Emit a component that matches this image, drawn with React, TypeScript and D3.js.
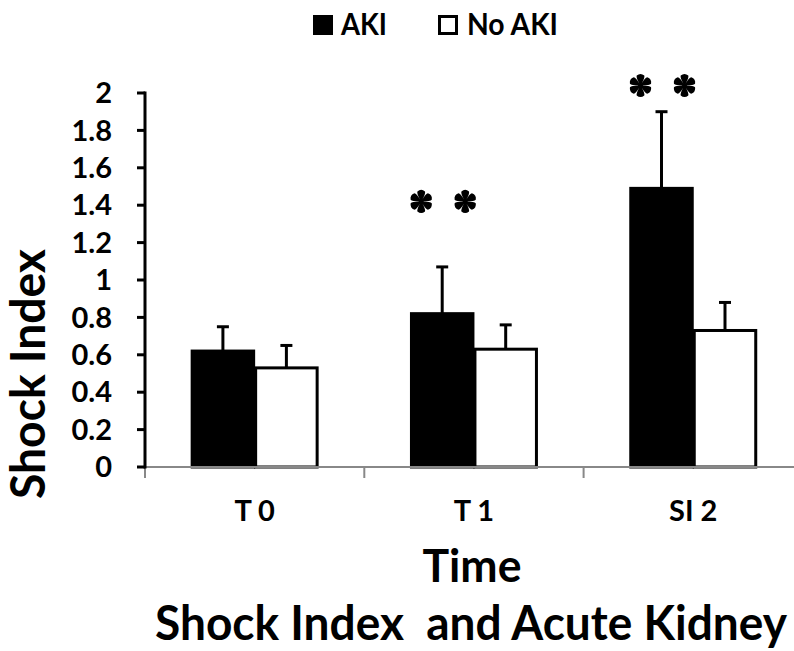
import React from 'react';
import * as d3 from 'd3';

// values
const categories = ['T 0', 'T 1', 'SI 2'];
const series = ['AKI', 'No AKI'];
const akiMean = [0.62, 0.82, 1.49];
const akiErr = [0.13, 0.25, 0.41];
const noAkiMean = [0.53, 0.63, 0.73];
const noAkiErr = [0.12, 0.13, 0.15];
const yTicks = [0, 0.2, 0.4, 0.6, 0.8, 1, 1.2, 1.4, 1.6, 1.8, 2];
// significance marks: category + height (in Shock Index units)
const sigCategories = ['T 1', 'SI 2'];
const sigLevels = [1.42, 2.04];

const FONT = 'Lato, "Open Sans", sans-serif';

// six-lobed asterisk like the Times glyph
const asteriskPath = (() => {
  const p = d3.path();
  const petals = 6;
  for (let i = 0; i < petals; i++) {
    const a = (i * Math.PI * 2) / petals - Math.PI / 2;
    const ca = Math.cos(a);
    const sa = Math.sin(a);
    const n = [-sa, ca];
    const pt = (r: number, w: number): [number, number] => [ca * r + n[0] * w, sa * r + n[1] * w];
    const s0 = pt(1.5, -0.9);
    const s1 = pt(1.5, 0.9);
    p.moveTo(...s0);
    const c1 = pt(8, -4.6);
    const tip = pt(12, 0);
    const c2 = pt(8, 4.6);
    p.quadraticCurveTo(c1[0], c1[1], (c1[0] + tip[0]) / 2 + (-sa) * -1.5, (c1[1] + tip[1]) / 2 + ca * -1.5);
    p.quadraticCurveTo(tip[0] + ca * 1.2, tip[1] + sa * 1.2, (c2[0] + tip[0]) / 2 + (-sa) * 1.5, (c2[1] + tip[1]) / 2 + ca * 1.5);
    p.quadraticCurveTo(c2[0], c2[1], s1[0], s1[1]);
    p.closePath();
  }
  p.moveTo(2.6, 0);
  p.arc(0, 0, 2.6, 0, Math.PI * 2);
  return p.toString();
})();

const App: React.FC = () => {
  const width = 794;
  const height = 651;
  const left = 145;
  const bottom = 467;
  const top = 93;
  const step = 219.3;

  const x0 = d3.scaleBand<string>()
    .domain(categories)
    .range([left, left + step * categories.length])
    .paddingInner(0)
    .paddingOuter(0);

  const x1 = d3.scaleBand<string>()
    .domain(series)
    .range([0, x0.bandwidth()])
    .paddingInner(0)
    .paddingOuter(0.727);

  const y = d3.scaleLinear().domain([0, 2]).range([bottom, top]);

  const rows = categories.map((c, i) => ({
    cat: c,
    bars: [
      { key: 'AKI', mean: akiMean[i], err: akiErr[i], fill: '#000' },
      { key: 'No AKI', mean: noAkiMean[i], err: noAkiErr[i], fill: '#fff' },
    ],
  }));

  const bw = x1.bandwidth();
  const capHalf = 6;

  return (
    <svg
      width={width}
      height={height}
      style={{ position: 'absolute', left: 0, top: 0, display: 'block', background: '#fff' }}
      fontFamily={FONT}
      fontWeight="bold"
    >
      {/* legend */}
      <g>
        <rect x={313} y={15} width={20} height={20} fill="#000" />
        <text x={341} y={35} fontSize={30} textLength={46} lengthAdjust="spacingAndGlyphs">AKI</text>
        <rect x={439.5} y={16.5} width={17} height={17} fill="#fff" stroke="#000" strokeWidth={3} />
        <text x={467} y={35} fontSize={30} textLength={91} lengthAdjust="spacingAndGlyphs">No AKI</text>
      </g>

      {/* bars */}
      {rows.map((r) => (
        <g key={r.cat} transform={`translate(${x0(r.cat)},0)`}>
          {r.bars.map((b) => {
            const bx = x1(b.key) || 0;
            const cx = bx + bw / 2;
            return (
              <g key={b.key}>
                <line x1={cx} x2={cx} y1={y(b.mean)} y2={y(b.mean + b.err)} stroke="#000" strokeWidth={3} />
                <line x1={cx - capHalf} x2={cx + capHalf} y1={y(b.mean + b.err)} y2={y(b.mean + b.err)} stroke="#000" strokeWidth={3} />
                <rect
                  x={bx + 1}
                  y={y(b.mean)}
                  width={bw - 2}
                  height={y(0) - y(b.mean)}
                  fill={b.fill}
                  stroke="#000"
                  strokeWidth={3}
                />
              </g>
            );
          })}
        </g>
      ))}

      {/* x axis */}
      <line x1={left} x2={width} y1={bottom} y2={bottom} stroke="#888" strokeWidth={2} />
      {categories.map((c) => (
        <line key={c} x1={x0(c)} x2={x0(c)} y1={bottom} y2={bottom + 11} stroke="#888" strokeWidth={2} />
      ))}
      {categories.map((c) => (
        <text key={c} x={(x0(c) || 0) + x0.bandwidth() / 2} y={521} fontSize={29} textAnchor="middle">{c}</text>
      ))}

      {/* y axis */}
      <line x1={left} x2={left} y1={top - 1.5} y2={bottom + 1.5} stroke="#000" strokeWidth={3} />
      {yTicks.map((t) => (
        <g key={t}>
          <line x1={left - 8} x2={left} y1={y(t)} y2={y(t)} stroke="#000" strokeWidth={3} />
          <text x={112} y={y(t)} dy="0.35em" fontSize={29} textAnchor="end">{d3.format('~g')(t)}</text>
        </g>
      ))}

      {/* significance asterisks */}
      {sigCategories.map((c, i) => {
        const cx = (x0(c) || 0) + (x1('AKI') || 0) + bw / 2 + 1;
        const cy = y(sigLevels[i]);
        return [-22, 22].map((dx) => (
          <path key={c + dx} d={asteriskPath} transform={`translate(${cx + dx},${cy})`} fill="#000" />
        ));
      })}

      {/* axis titles */}
      <text
        transform="translate(45,374) rotate(-90)"
        fontSize={48}
        textAnchor="middle"
        textLength={250}
        lengthAdjust="spacingAndGlyphs"
      >Shock Index</text>
      <text x={472} y={582} fontSize={46} textAnchor="middle" textLength={99} lengthAdjust="spacingAndGlyphs">Time</text>
      <text
        x={155}
        y={640}
        fontSize={48}
        style={{ whiteSpace: 'pre' }}
        textLength={632}
        lengthAdjust="spacingAndGlyphs"
      >{'Shock Index  and Acute Kidney'}</text>
    </svg>
  );
};

export default App;
